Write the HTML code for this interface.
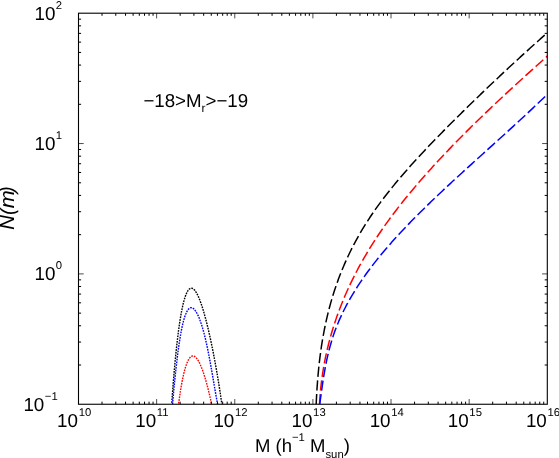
<!DOCTYPE html>
<html><head><meta charset="utf-8"><title>N(m)</title>
<style>html,body{margin:0;padding:0;background:#fff;}svg{display:block;will-change:transform;text-rendering:geometricPrecision;}text{font-family:"Liberation Sans",sans-serif;fill:#000;}</style></head><body>
<svg width="559" height="458" viewBox="0 0 559 458">
<rect width="559" height="458" fill="#fff"/>
<defs><clipPath id="c"><rect x="78.5" y="13.2" width="468.79999999999995" height="391.05"/></clipPath></defs>
<g clip-path="url(#c)" fill="none">
<path d="M316.18,404.25 L316.21,403.49 L316.25,402.73 L316.28,401.97 L316.32,401.21 L316.35,400.45 L316.39,399.69 L316.43,398.93 L316.47,398.17 L316.51,397.41 L316.55,396.65 L316.59,395.89 L316.63,395.13 L316.67,394.37 L316.71,393.61 L316.76,392.85 L316.80,392.09 L316.85,391.33 L316.90,390.57 L316.95,389.81 L316.99,389.05 L317.04,388.29 L317.09,387.53 L317.14,386.77 L317.20,386.01 L317.25,385.25 L317.30,384.49 L317.36,383.73 L317.42,382.97 L317.47,382.21 L317.53,381.45 L317.59,380.69 L317.65,379.93 L317.71,379.17 L317.77,378.41 L317.84,377.65 L317.90,376.89 L317.97,376.13 L318.03,375.37 L318.10,374.61 L318.17,373.85 L318.24,373.09 L318.31,372.33 L318.38,371.57 L318.45,370.81 L318.53,370.05 L318.60,369.29 L318.68,368.53 L318.76,367.77 L318.83,367.01 L318.91,366.25 L319.00,365.49 L319.08,364.73 L319.16,363.97 L319.25,363.21 L319.33,362.45 L319.42,361.69 L319.51,360.93 L319.60,360.17 L319.69,359.41 L319.78,358.65 L319.87,357.89 L319.97,357.13 L320.06,356.37 L320.16,355.61 L320.26,354.85 L320.36,354.09 L320.46,353.33 L320.57,352.57 L320.67,351.81 L320.78,351.05 L320.88,350.29 L320.99,349.53 L321.10,348.77 L321.21,348.01 L321.32,347.25 L321.44,346.49 L321.55,345.73 L321.67,344.97 L321.79,344.21 L321.91,343.45 L322.03,342.69 L322.15,341.93 L322.28,341.17 L322.40,340.41 L322.53,339.65 L322.66,338.89 L322.79,338.13 L322.92,337.37 L323.06,336.61 L323.19,335.85 L323.33,335.09 L323.47,334.33 L323.61,333.57 L323.75,332.81 L323.89,332.05 L324.04,331.29 L324.18,330.53 L324.33,329.77 L324.48,329.01 L324.63,328.25 L324.79,327.49 L324.94,326.73 L325.10,325.97 L325.26,325.21 L325.42,324.45 L325.58,323.69 L325.74,322.93 L325.91,322.17 L326.08,321.41 L326.25,320.65 L326.42,319.89 L326.59,319.13 L326.76,318.37 L326.94,317.61 L327.12,316.85 L327.30,316.09 L327.48,315.33 L327.66,314.57 L327.85,313.81 L328.03,313.05 L328.22,312.29 L328.42,311.53 L328.61,310.77 L328.80,310.01 L329.00,309.25 L329.20,308.49 L329.40,307.73 L329.60,306.97 L329.81,306.21 L330.01,305.45 L330.22,304.69 L330.43,303.93 L330.64,303.17 L330.86,302.41 L331.08,301.65 L331.29,300.89 L331.52,300.13 L331.74,299.37 L331.96,298.61 L332.19,297.85 L332.42,297.09 L332.65,296.33 L332.88,295.57 L333.12,294.81 L333.36,294.05 L333.59,293.29 L333.84,292.53 L334.08,291.77 L334.33,291.01 L334.57,290.25 L334.82,289.49 L335.08,288.73 L335.33,287.97 L335.59,287.21 L335.85,286.45 L336.11,285.69 L336.37,284.93 L336.64,284.17 L336.91,283.41 L337.18,282.65 L337.45,281.89 L337.72,281.13 L338.00,280.37 L338.28,279.61 L338.56,278.85 L338.85,278.09 L339.13,277.33 L339.42,276.57 L339.71,275.81 L340.01,275.05 L340.30,274.29 L340.60,273.53 L340.90,272.77 L341.21,272.01 L341.51,271.25 L341.82,270.49 L342.13,269.73 L342.44,268.97 L342.76,268.21 L343.08,267.45 L343.40,266.69 L343.72,265.93 L344.04,265.17 L344.37,264.41 L344.70,263.65 L345.04,262.89 L345.37,262.13 L345.71,261.37 L346.05,260.61 L346.39,259.85 L346.74,259.09 L347.09,258.33 L347.44,257.57 L347.79,256.81 L348.15,256.05 L348.51,255.29 L348.87,254.53 L349.23,253.77 L349.60,253.01 L349.97,252.25 L350.34,251.49 L350.71,250.73 L351.09,249.97 L351.47,249.21 L351.85,248.45 L352.24,247.69 L352.63,246.93 L353.02,246.17 L353.41,245.41 L353.81,244.65 L354.21,243.89 L354.61,243.13 L355.02,242.37 L355.42,241.61 L355.83,240.85 L356.25,240.09 L356.66,239.33 L357.08,238.57 L357.50,237.81 L357.93,237.05 L358.36,236.29 L358.79,235.53 L359.22,234.77 L359.66,234.01 L360.09,233.25 L360.54,232.49 L360.98,231.73 L361.43,230.97 L361.88,230.21 L362.33,229.45 L362.79,228.69 L363.25,227.93 L363.71,227.17 L364.18,226.41 L364.65,225.65 L365.12,224.89 L365.60,224.13 L366.07,223.37 L366.55,222.61 L367.04,221.85 L367.53,221.09 L368.02,220.33 L368.51,219.57 L369.00,218.81 L369.50,218.05 L370.01,217.29 L370.51,216.53 L371.02,215.77 L371.53,215.01 L372.05,214.24 L372.57,213.48 L373.09,212.72 L373.61,211.96 L374.14,211.20 L374.67,210.44 L375.21,209.68 L375.74,208.92 L376.28,208.16 L376.82,207.40 L377.37,206.64 L377.92,205.88 L378.47,205.12 L379.03,204.36 L379.58,203.60 L380.14,202.84 L380.71,202.08 L381.27,201.32 L381.84,200.56 L382.41,199.80 L382.99,199.04 L383.57,198.28 L384.15,197.52 L384.73,196.76 L385.31,196.00 L385.90,195.24 L386.49,194.48 L387.09,193.72 L387.68,192.96 L388.28,192.20 L388.88,191.44 L389.49,190.68 L390.10,189.92 L390.70,189.16 L391.32,188.40 L391.93,187.64 L392.55,186.88 L393.17,186.12 L393.79,185.36 L394.41,184.60 L395.04,183.84 L395.67,183.08 L396.30,182.32 L396.93,181.56 L397.57,180.80 L398.21,180.04 L398.85,179.28 L399.49,178.52 L400.14,177.76 L400.78,177.00 L401.43,176.24 L402.09,175.48 L402.74,174.72 L403.40,173.96 L404.06,173.20 L404.72,172.44 L405.38,171.68 L406.04,170.92 L406.71,170.16 L407.38,169.40 L408.05,168.64 L408.72,167.88 L409.40,167.12 L410.08,166.36 L410.75,165.60 L411.44,164.84 L412.12,164.08 L412.80,163.32 L413.49,162.56 L414.18,161.80 L414.87,161.04 L415.56,160.28 L416.26,159.52 L416.95,158.76 L417.65,158.00 L418.35,157.24 L419.05,156.48 L419.75,155.72 L420.46,154.96 L421.16,154.20 L421.87,153.44 L422.58,152.68 L423.29,151.92 L424.01,151.16 L424.72,150.40 L425.44,149.64 L426.15,148.88 L426.87,148.12 L427.59,147.36 L428.32,146.60 L429.04,145.84 L429.76,145.08 L430.49,144.32 L431.22,143.56 L431.95,142.80 L432.68,142.04 L433.41,141.28 L434.15,140.52 L434.88,139.76 L435.62,139.00 L436.35,138.24 L437.09,137.48 L437.83,136.72 L438.57,135.96 L439.32,135.20 L440.06,134.44 L440.80,133.68 L441.55,132.92 L442.30,132.16 L443.05,131.40 L443.80,130.64 L444.55,129.88 L445.30,129.12 L446.05,128.36 L446.80,127.60 L447.56,126.84 L448.31,126.08 L449.07,125.32 L449.83,124.56 L450.59,123.80 L451.35,123.04 L452.11,122.28 L452.87,121.52 L453.63,120.76 L454.39,120.00 L455.16,119.24 L455.92,118.48 L456.69,117.72 L457.45,116.96 L458.22,116.20 L458.99,115.44 L459.75,114.68 L460.52,113.92 L461.29,113.16 L462.06,112.40 L462.83,111.64 L463.61,110.88 L464.38,110.12 L465.15,109.36 L465.93,108.60 L466.70,107.84 L467.48,107.08 L468.26,106.32 L469.03,105.56 L469.81,104.80 L470.59,104.04 L471.37,103.28 L472.15,102.52 L472.93,101.76 L473.71,101.00 L474.50,100.24 L475.28,99.48 L476.06,98.72 L476.85,97.96 L477.64,97.20 L478.42,96.44 L479.21,95.68 L480.00,94.92 L480.79,94.16 L481.58,93.40 L482.37,92.64 L483.16,91.88 L483.95,91.12 L484.75,90.36 L485.54,89.60 L486.33,88.84 L487.13,88.08 L487.93,87.32 L488.72,86.56 L489.52,85.80 L490.32,85.04 L491.12,84.28 L491.92,83.52 L492.72,82.76 L493.53,82.00 L494.33,81.24 L495.13,80.48 L495.94,79.72 L496.74,78.96 L497.55,78.20 L498.36,77.44 L499.16,76.68 L499.97,75.92 L500.78,75.16 L501.59,74.40 L502.40,73.64 L503.22,72.88 L504.03,72.12 L504.84,71.36 L505.66,70.60 L506.47,69.84 L507.29,69.08 L508.11,68.32 L508.93,67.56 L509.75,66.80 L510.57,66.04 L511.39,65.28 L512.21,64.52 L513.03,63.76 L513.85,63.00 L514.68,62.24 L515.50,61.48 L516.33,60.72 L517.16,59.96 L517.98,59.20 L518.81,58.44 L519.64,57.68 L520.47,56.92 L521.31,56.16 L522.14,55.40 L522.97,54.64 L523.80,53.88 L524.64,53.12 L525.48,52.36 L526.31,51.60 L527.15,50.84 L527.99,50.08 L528.83,49.32 L529.67,48.56 L530.51,47.80 L531.35,47.04 L532.19,46.28 L533.04,45.52 L533.88,44.76 L534.73,44.00 L535.58,43.24 L536.42,42.48 L537.27,41.72 L538.12,40.96 L538.97,40.20 L539.82,39.44 L540.68,38.68 L541.53,37.92 L542.38,37.16 L543.24,36.40 L544.10,35.64 L544.95,34.88 L545.81,34.12 L546.67,33.36 L547.53,32.60 L548.39,31.84 L549.25,31.08" stroke="#000000" stroke-width="1.5" stroke-dasharray="10.2 3.55"/>
<path d="M319.51,404.25 L319.55,403.49 L319.59,402.73 L319.63,401.97 L319.68,401.21 L319.72,400.45 L319.77,399.69 L319.82,398.93 L319.88,398.17 L319.93,397.41 L319.99,396.65 L320.05,395.89 L320.11,395.13 L320.17,394.37 L320.23,393.61 L320.30,392.85 L320.37,392.09 L320.44,391.33 L320.51,390.57 L320.58,389.81 L320.66,389.05 L320.73,388.29 L320.81,387.53 L320.89,386.77 L320.98,386.01 L321.06,385.25 L321.15,384.49 L321.24,383.73 L321.33,382.97 L321.42,382.21 L321.51,381.45 L321.61,380.69 L321.71,379.93 L321.81,379.17 L321.91,378.41 L322.01,377.65 L322.12,376.89 L322.23,376.13 L322.34,375.37 L322.45,374.61 L322.56,373.85 L322.68,373.09 L322.80,372.33 L322.92,371.57 L323.04,370.81 L323.16,370.05 L323.29,369.29 L323.41,368.53 L323.54,367.77 L323.67,367.01 L323.81,366.25 L323.94,365.49 L324.08,364.73 L324.22,363.97 L324.36,363.21 L324.50,362.45 L324.65,361.69 L324.80,360.93 L324.94,360.17 L325.10,359.41 L325.25,358.65 L325.40,357.89 L325.56,357.13 L325.72,356.37 L325.88,355.61 L326.04,354.85 L326.21,354.09 L326.38,353.33 L326.54,352.57 L326.72,351.81 L326.89,351.05 L327.06,350.29 L327.24,349.53 L327.42,348.77 L327.60,348.01 L327.78,347.25 L327.97,346.49 L328.16,345.73 L328.34,344.97 L328.54,344.21 L328.73,343.45 L328.92,342.69 L329.12,341.93 L329.32,341.17 L329.52,340.41 L329.73,339.65 L329.93,338.89 L330.14,338.13 L330.35,337.37 L330.56,336.61 L330.77,335.85 L330.99,335.09 L331.21,334.33 L331.43,333.57 L331.65,332.81 L331.87,332.05 L332.10,331.29 L332.33,330.53 L332.56,329.77 L332.79,329.01 L333.02,328.25 L333.26,327.49 L333.50,326.73 L333.74,325.97 L333.98,325.21 L334.23,324.45 L334.47,323.69 L334.72,322.93 L334.97,322.17 L335.23,321.41 L335.48,320.65 L335.74,319.89 L336.00,319.13 L336.26,318.37 L336.53,317.61 L336.79,316.85 L337.06,316.09 L337.33,315.33 L337.60,314.57 L337.88,313.81 L338.15,313.05 L338.43,312.29 L338.71,311.53 L339.00,310.77 L339.28,310.01 L339.57,309.25 L339.86,308.49 L340.15,307.73 L340.44,306.97 L340.74,306.21 L341.04,305.45 L341.34,304.69 L341.64,303.93 L341.94,303.17 L342.25,302.41 L342.56,301.65 L342.87,300.89 L343.18,300.13 L343.50,299.37 L343.81,298.61 L344.13,297.85 L344.46,297.09 L344.78,296.33 L345.11,295.57 L345.43,294.81 L345.77,294.05 L346.10,293.29 L346.43,292.53 L346.77,291.77 L347.11,291.01 L347.45,290.25 L347.79,289.49 L348.14,288.73 L348.49,287.97 L348.84,287.21 L349.19,286.45 L349.55,285.69 L349.90,284.93 L350.26,284.17 L350.62,283.41 L350.99,282.65 L351.35,281.89 L351.72,281.13 L352.09,280.37 L352.46,279.61 L352.84,278.85 L353.22,278.09 L353.60,277.33 L353.98,276.57 L354.36,275.81 L354.75,275.05 L355.13,274.29 L355.53,273.53 L355.92,272.77 L356.31,272.01 L356.71,271.25 L357.11,270.49 L357.51,269.73 L357.92,268.97 L358.32,268.21 L358.73,267.45 L359.14,266.69 L359.55,265.93 L359.97,265.17 L360.39,264.41 L360.81,263.65 L361.23,262.89 L361.65,262.13 L362.08,261.37 L362.51,260.61 L362.94,259.85 L363.38,259.09 L363.81,258.33 L364.25,257.57 L364.69,256.81 L365.13,256.05 L365.58,255.29 L366.03,254.53 L366.48,253.77 L366.93,253.01 L367.38,252.25 L367.84,251.49 L368.30,250.73 L368.76,249.97 L369.22,249.21 L369.69,248.45 L370.16,247.69 L370.63,246.93 L371.10,246.17 L371.58,245.41 L372.06,244.65 L372.54,243.89 L373.02,243.13 L373.50,242.37 L373.99,241.61 L374.48,240.85 L374.97,240.09 L375.47,239.33 L375.96,238.57 L376.46,237.81 L376.96,237.05 L377.47,236.29 L377.97,235.53 L378.48,234.77 L378.99,234.01 L379.51,233.25 L380.02,232.49 L380.54,231.73 L381.06,230.97 L381.58,230.21 L382.11,229.45 L382.64,228.69 L383.17,227.93 L383.70,227.17 L384.23,226.41 L384.77,225.65 L385.31,224.89 L385.85,224.13 L386.39,223.37 L386.94,222.61 L387.49,221.85 L388.04,221.09 L388.59,220.33 L389.15,219.57 L389.70,218.81 L390.26,218.05 L390.83,217.29 L391.39,216.53 L391.96,215.77 L392.52,215.01 L393.09,214.24 L393.67,213.48 L394.24,212.72 L394.82,211.96 L395.40,211.20 L395.98,210.44 L396.56,209.68 L397.15,208.92 L397.74,208.16 L398.33,207.40 L398.92,206.64 L399.51,205.88 L400.11,205.12 L400.71,204.36 L401.31,203.60 L401.91,202.84 L402.52,202.08 L403.12,201.32 L403.73,200.56 L404.34,199.80 L404.96,199.04 L405.57,198.28 L406.19,197.52 L406.81,196.76 L407.43,196.00 L408.05,195.24 L408.67,194.48 L409.30,193.72 L409.93,192.96 L410.56,192.20 L411.19,191.44 L411.83,190.68 L412.47,189.92 L413.10,189.16 L413.74,188.40 L414.39,187.64 L415.03,186.88 L415.68,186.12 L416.33,185.36 L416.98,184.60 L417.63,183.84 L418.28,183.08 L418.94,182.32 L419.59,181.56 L420.25,180.80 L420.91,180.04 L421.58,179.28 L422.24,178.52 L422.91,177.76 L423.58,177.00 L424.25,176.24 L424.92,175.48 L425.59,174.72 L426.27,173.96 L426.95,173.20 L427.63,172.44 L428.31,171.68 L428.99,170.92 L429.67,170.16 L430.36,169.40 L431.05,168.64 L431.74,167.88 L432.43,167.12 L433.12,166.36 L433.81,165.60 L434.51,164.84 L435.21,164.08 L435.91,163.32 L436.61,162.56 L437.31,161.80 L438.02,161.04 L438.72,160.28 L439.43,159.52 L440.14,158.76 L440.85,158.00 L441.56,157.24 L442.28,156.48 L442.99,155.72 L443.71,154.96 L444.43,154.20 L445.15,153.44 L445.87,152.68 L446.59,151.92 L447.32,151.16 L448.05,150.40 L448.77,149.64 L449.50,148.88 L450.23,148.12 L450.97,147.36 L451.70,146.60 L452.44,145.84 L453.17,145.08 L453.91,144.32 L454.65,143.56 L455.39,142.80 L456.13,142.04 L456.88,141.28 L457.62,140.52 L458.37,139.76 L459.12,139.00 L459.87,138.24 L460.62,137.48 L461.37,136.72 L462.13,135.96 L462.88,135.20 L463.64,134.44 L464.40,133.68 L465.16,132.92 L465.92,132.16 L466.68,131.40 L467.44,130.64 L468.21,129.88 L468.97,129.12 L469.74,128.36 L470.51,127.60 L471.28,126.84 L472.05,126.08 L472.82,125.32 L473.59,124.56 L474.37,123.80 L475.15,123.04 L475.92,122.28 L476.70,121.52 L477.48,120.76 L478.26,120.00 L479.04,119.24 L479.83,118.48 L480.61,117.72 L481.40,116.96 L482.18,116.20 L482.97,115.44 L483.76,114.68 L484.55,113.92 L485.34,113.16 L486.13,112.40 L486.93,111.64 L487.72,110.88 L488.52,110.12 L489.32,109.36 L490.11,108.60 L490.91,107.84 L491.71,107.08 L492.51,106.32 L493.32,105.56 L494.12,104.80 L494.92,104.04 L495.73,103.28 L496.53,102.52 L497.34,101.76 L498.15,101.00 L498.96,100.24 L499.77,99.48 L500.58,98.72 L501.39,97.96 L502.21,97.20 L503.02,96.44 L503.84,95.68 L504.65,94.92 L505.47,94.16 L506.29,93.40 L507.10,92.64 L507.92,91.88 L508.74,91.12 L509.57,90.36 L510.39,89.60 L511.21,88.84 L512.04,88.08 L512.86,87.32 L513.69,86.56 L514.51,85.80 L515.34,85.04 L516.17,84.28 L517.00,83.52 L517.83,82.76 L518.66,82.00 L519.49,81.24 L520.32,80.48 L521.16,79.72 L521.99,78.96 L522.82,78.20 L523.66,77.44 L524.50,76.68 L525.33,75.92 L526.17,75.16 L527.01,74.40 L527.85,73.64 L528.69,72.88 L529.53,72.12 L530.37,71.36 L531.21,70.60 L532.05,69.84 L532.90,69.08 L533.74,68.32 L534.58,67.56 L535.43,66.80 L536.28,66.04 L537.12,65.28 L537.97,64.52 L538.82,63.76 L539.66,63.00 L540.51,62.24 L541.36,61.48 L542.21,60.72 L543.06,59.96 L543.91,59.20 L544.77,58.44 L545.62,57.68 L546.47,56.92 L547.32,56.16 L548.18,55.40 L549.03,54.64" stroke="#ff0000" stroke-width="1.5" stroke-dasharray="10.2 3.55"/>
<path d="M319.75,404.25 L319.86,403.49 L319.96,402.73 L320.06,401.97 L320.16,401.21 L320.26,400.45 L320.37,399.69 L320.47,398.93 L320.57,398.17 L320.67,397.41 L320.78,396.65 L320.88,395.89 L320.98,395.13 L321.09,394.37 L321.19,393.61 L321.29,392.85 L321.40,392.09 L321.50,391.33 L321.61,390.57 L321.72,389.81 L321.82,389.05 L321.93,388.29 L322.04,387.53 L322.15,386.77 L322.26,386.01 L322.37,385.25 L322.48,384.49 L322.59,383.73 L322.70,382.97 L322.82,382.21 L322.93,381.45 L323.05,380.69 L323.17,379.93 L323.29,379.17 L323.41,378.41 L323.53,377.65 L323.65,376.89 L323.77,376.13 L323.90,375.37 L324.02,374.61 L324.15,373.85 L324.28,373.09 L324.41,372.33 L324.54,371.57 L324.68,370.81 L324.81,370.05 L324.95,369.29 L325.09,368.53 L325.23,367.77 L325.37,367.01 L325.51,366.25 L325.66,365.49 L325.81,364.73 L325.96,363.97 L326.11,363.21 L326.26,362.45 L326.42,361.69 L326.58,360.93 L326.74,360.17 L326.90,359.41 L327.06,358.65 L327.23,357.89 L327.40,357.13 L327.57,356.37 L327.75,355.61 L327.92,354.85 L328.10,354.09 L328.28,353.33 L328.47,352.57 L328.65,351.81 L328.84,351.05 L329.03,350.29 L329.23,349.53 L329.43,348.77 L329.63,348.01 L329.83,347.25 L330.04,346.49 L330.25,345.73 L330.46,344.97 L330.67,344.21 L330.89,343.45 L331.11,342.69 L331.34,341.93 L331.56,341.17 L331.79,340.41 L332.03,339.65 L332.26,338.89 L332.51,338.13 L332.75,337.37 L333.00,336.61 L333.25,335.85 L333.50,335.09 L333.76,334.33 L334.02,333.57 L334.29,332.81 L334.56,332.05 L334.83,331.29 L335.10,330.53 L335.38,329.77 L335.67,329.01 L335.96,328.25 L336.25,327.49 L336.54,326.73 L336.84,325.97 L337.15,325.21 L337.45,324.45 L337.77,323.69 L338.08,322.93 L338.40,322.17 L338.72,321.41 L339.05,320.65 L339.38,319.89 L339.72,319.13 L340.05,318.37 L340.40,317.61 L340.74,316.85 L341.09,316.09 L341.44,315.33 L341.80,314.57 L342.16,313.81 L342.53,313.05 L342.90,312.29 L343.27,311.53 L343.64,310.77 L344.02,310.01 L344.41,309.25 L344.80,308.49 L345.19,307.73 L345.58,306.97 L345.98,306.21 L346.38,305.45 L346.79,304.69 L347.20,303.93 L347.61,303.17 L348.02,302.41 L348.45,301.65 L348.87,300.89 L349.30,300.13 L349.73,299.37 L350.16,298.61 L350.60,297.85 L351.04,297.09 L351.49,296.33 L351.94,295.57 L352.39,294.81 L352.84,294.05 L353.30,293.29 L353.77,292.53 L354.23,291.77 L354.70,291.01 L355.18,290.25 L355.65,289.49 L356.13,288.73 L356.62,287.97 L357.10,287.21 L357.59,286.45 L358.09,285.69 L358.59,284.93 L359.09,284.17 L359.59,283.41 L360.10,282.65 L360.61,281.89 L361.12,281.13 L361.64,280.37 L362.16,279.61 L362.69,278.85 L363.21,278.09 L363.75,277.33 L364.28,276.57 L364.82,275.81 L365.36,275.05 L365.90,274.29 L366.45,273.53 L367.00,272.77 L367.56,272.01 L368.11,271.25 L368.67,270.49 L369.24,269.73 L369.80,268.97 L370.38,268.21 L370.95,267.45 L371.53,266.69 L372.11,265.93 L372.69,265.17 L373.27,264.41 L373.86,263.65 L374.46,262.89 L375.05,262.13 L375.65,261.37 L376.25,260.61 L376.86,259.85 L377.47,259.09 L378.08,258.33 L378.69,257.57 L379.31,256.81 L379.93,256.05 L380.55,255.29 L381.18,254.53 L381.81,253.77 L382.44,253.01 L383.08,252.25 L383.72,251.49 L384.36,250.73 L385.00,249.97 L385.65,249.21 L386.30,248.45 L386.96,247.69 L387.61,246.93 L388.27,246.17 L388.93,245.41 L389.60,244.65 L390.27,243.89 L390.94,243.13 L391.61,242.37 L392.29,241.61 L392.97,240.85 L393.65,240.09 L394.33,239.33 L395.02,238.57 L395.71,237.81 L396.40,237.05 L397.09,236.29 L397.79,235.53 L398.49,234.77 L399.19,234.01 L399.90,233.25 L400.61,232.49 L401.32,231.73 L402.03,230.97 L402.74,230.21 L403.46,229.45 L404.18,228.69 L404.90,227.93 L405.63,227.17 L406.35,226.41 L407.08,225.65 L407.81,224.89 L408.54,224.13 L409.28,223.37 L410.02,222.61 L410.76,221.85 L411.50,221.09 L412.24,220.33 L412.99,219.57 L413.74,218.81 L414.49,218.05 L415.24,217.29 L415.99,216.53 L416.75,215.77 L417.51,215.01 L418.27,214.24 L419.03,213.48 L419.79,212.72 L420.56,211.96 L421.33,211.20 L422.10,210.44 L422.87,209.68 L423.64,208.92 L424.41,208.16 L425.19,207.40 L425.97,206.64 L426.75,205.88 L427.53,205.12 L428.31,204.36 L429.10,203.60 L429.88,202.84 L430.67,202.08 L431.46,201.32 L432.25,200.56 L433.04,199.80 L433.84,199.04 L434.63,198.28 L435.43,197.52 L436.23,196.76 L437.03,196.00 L437.83,195.24 L438.63,194.48 L439.44,193.72 L440.24,192.96 L441.05,192.20 L441.85,191.44 L442.66,190.68 L443.47,189.92 L444.28,189.16 L445.10,188.40 L445.91,187.64 L446.72,186.88 L447.54,186.12 L448.36,185.36 L449.18,184.60 L449.99,183.84 L450.81,183.08 L451.63,182.32 L452.46,181.56 L453.28,180.80 L454.10,180.04 L454.93,179.28 L455.75,178.52 L456.58,177.76 L457.41,177.00 L458.23,176.24 L459.06,175.48 L459.89,174.72 L460.72,173.96 L461.55,173.20 L462.38,172.44 L463.22,171.68 L464.05,170.92 L464.88,170.16 L465.72,169.40 L466.55,168.64 L467.39,167.88 L468.22,167.12 L469.06,166.36 L469.90,165.60 L470.73,164.84 L471.57,164.08 L472.41,163.32 L473.25,162.56 L474.09,161.80 L474.92,161.04 L475.76,160.28 L476.60,159.52 L477.44,158.76 L478.28,158.00 L479.12,157.24 L479.97,156.48 L480.81,155.72 L481.65,154.96 L482.49,154.20 L483.33,153.44 L484.17,152.68 L485.01,151.92 L485.85,151.16 L486.70,150.40 L487.54,149.64 L488.38,148.88 L489.22,148.12 L490.06,147.36 L490.90,146.60 L491.75,145.84 L492.59,145.08 L493.43,144.32 L494.27,143.56 L495.11,142.80 L495.95,142.04 L496.79,141.28 L497.63,140.52 L498.47,139.76 L499.31,139.00 L500.15,138.24 L500.99,137.48 L501.83,136.72 L502.66,135.96 L503.50,135.20 L504.34,134.44 L505.18,133.68 L506.01,132.92 L506.85,132.16 L507.68,131.40 L508.52,130.64 L509.35,129.88 L510.18,129.12 L511.02,128.36 L511.85,127.60 L512.68,126.84 L513.51,126.08 L514.34,125.32 L515.17,124.56 L516.00,123.80 L516.83,123.04 L517.65,122.28 L518.48,121.52 L519.31,120.76 L520.13,120.00 L520.95,119.24 L521.78,118.48 L522.60,117.72 L523.42,116.96 L524.24,116.20 L525.06,115.44 L525.88,114.68 L526.69,113.92 L527.51,113.16 L528.32,112.40 L529.14,111.64 L529.95,110.88 L530.76,110.12 L531.57,109.36 L532.38,108.60 L533.19,107.84 L533.99,107.08 L534.80,106.32 L535.60,105.56 L536.40,104.80 L537.20,104.04 L538.00,103.28 L538.80,102.52 L539.60,101.76 L540.39,101.00 L541.19,100.24 L541.98,99.48 L542.77,98.72 L543.56,97.96 L544.35,97.20 L545.13,96.44 L545.92,95.68 L546.70,94.92 L547.48,94.16 L548.26,93.40 L549.04,92.64" stroke="#0000ff" stroke-width="1.5" stroke-dasharray="10.17 3.49"/>
<path d="M171.75,402.91 L171.88,401.07 L172.01,399.25 L172.14,397.46 L172.27,395.67 L172.40,393.91 L172.54,392.17 L172.67,390.45 L172.80,388.74 L172.93,387.05 L173.06,385.39 L173.19,383.74 L173.32,382.10 L173.45,380.49 L173.58,378.89 L173.71,377.32 L173.85,375.76 L173.98,374.21 L174.11,372.69 L174.24,371.18 L174.37,369.69 L174.50,368.21 L174.63,366.76 L174.76,365.32 L174.89,363.90 L175.03,362.49 L175.16,361.10 L175.29,359.73 L175.42,358.37 L175.55,357.03 L175.68,355.71 L175.81,354.40 L175.94,353.11 L176.07,351.84 L176.21,350.58 L176.34,349.33 L176.47,348.10 L176.60,346.89 L176.73,345.69 L176.86,344.51 L176.99,343.35 L177.12,342.20 L177.25,341.06 L177.38,339.94 L177.52,338.83 L177.65,337.74 L177.78,336.66 L177.91,335.60 L178.04,334.55 L178.17,333.52 L178.30,332.50 L178.43,331.49 L178.56,330.50 L178.70,329.53 L178.83,328.56 L178.96,327.61 L179.09,326.68 L179.22,325.76 L179.35,324.85 L179.48,323.95 L179.61,323.07 L179.74,322.20 L179.88,321.35 L180.01,320.51 L180.14,319.68 L180.27,318.86 L180.40,318.06 L180.53,317.27 L180.66,316.49 L180.79,315.72 L180.92,314.97 L181.06,314.23 L181.19,313.50 L181.32,312.79 L181.45,312.08 L181.58,311.39 L181.71,310.71 L181.84,310.04 L181.97,309.39 L182.10,308.74 L182.23,308.11 L182.37,307.49 L182.50,306.88 L182.63,306.28 L182.76,305.69 L182.89,305.12 L183.02,304.55 L183.15,304.00 L183.28,303.46 L183.41,302.93 L183.55,302.40 L183.68,301.89 L183.81,301.39 L183.94,300.91 L184.07,300.43 L184.20,299.96 L184.33,299.50 L184.46,299.05 L184.59,298.62 L184.73,298.19 L184.86,297.77 L184.99,297.37 L185.12,296.97 L185.25,296.58 L185.38,296.20 L185.51,295.84 L185.64,295.48 L185.77,295.13 L185.91,294.79 L186.04,294.46 L186.17,294.14 L186.30,293.83 L186.43,293.53 L186.56,293.23 L186.69,292.95 L186.82,292.68 L186.95,292.41 L187.08,292.15 L187.22,291.90 L187.35,291.66 L187.48,291.43 L187.61,291.21 L187.74,291.00 L187.87,290.79 L188.00,290.59 L188.13,290.41 L188.26,290.23 L188.40,290.05 L188.53,289.89 L188.66,289.73 L188.79,289.58 L188.92,289.44 L189.05,289.31 L189.18,289.19 L189.31,289.07 L189.44,288.96 L189.58,288.86 L189.71,288.76 L189.84,288.68 L189.97,288.60 L190.10,288.53 L190.23,288.46 L190.36,288.41 L190.49,288.36 L190.62,288.31 L190.75,288.28 L190.89,288.25 L191.02,288.23 L191.15,288.21 L191.28,288.20 L191.41,288.20 L191.54,288.21 L191.67,288.22 L191.80,288.24 L191.93,288.27 L192.07,288.30 L192.20,288.34 L192.33,288.38 L192.46,288.43 L192.59,288.49 L192.72,288.55 L192.85,288.62 L192.98,288.70 L193.11,288.78 L193.25,288.87 L193.38,288.97 L193.51,289.07 L193.64,289.17 L193.77,289.29 L193.90,289.40 L194.03,289.53 L194.16,289.66 L194.29,289.79 L194.43,289.93 L194.56,290.08 L194.69,290.23 L194.82,290.39 L194.95,290.55 L195.08,290.72 L195.21,290.90 L195.34,291.07 L195.47,291.26 L195.60,291.45 L195.74,291.64 L195.87,291.84 L196.00,292.05 L196.13,292.26 L196.26,292.47 L196.39,292.69 L196.52,292.92 L196.65,293.15 L196.78,293.39 L196.92,293.62 L197.05,293.87 L197.18,294.12 L197.31,294.37 L197.44,294.63 L197.57,294.90 L197.70,295.16 L197.83,295.44 L197.96,295.71 L198.10,295.99 L198.23,296.28 L198.36,296.57 L198.49,296.87 L198.62,297.17 L198.75,297.47 L198.88,297.78 L199.01,298.09 L199.14,298.41 L199.27,298.73 L199.41,299.05 L199.54,299.38 L199.67,299.71 L199.80,300.05 L199.93,300.39 L200.06,300.74 L200.19,301.09 L200.32,301.44 L200.45,301.80 L200.59,302.16 L200.72,302.52 L200.85,302.89 L200.98,303.26 L201.11,303.64 L201.24,304.02 L201.37,304.40 L201.50,304.79 L201.63,305.18 L201.77,305.58 L201.90,305.98 L202.03,306.38 L202.16,306.79 L202.29,307.19 L202.42,307.61 L202.55,308.02 L202.68,308.44 L202.81,308.87 L202.95,309.29 L203.08,309.72 L203.21,310.16 L203.34,310.60 L203.47,311.04 L203.60,311.48 L203.73,311.93 L203.86,312.38 L203.99,312.83 L204.12,313.29 L204.26,313.75 L204.39,314.21 L204.52,314.68 L204.65,315.15 L204.78,315.63 L204.91,316.10 L205.04,316.58 L205.17,317.07 L205.30,317.55 L205.44,318.04 L205.57,318.53 L205.70,319.03 L205.83,319.53 L205.96,320.03 L206.09,320.53 L206.22,321.04 L206.35,321.55 L206.48,322.07 L206.62,322.59 L206.75,323.11 L206.88,323.63 L207.01,324.16 L207.14,324.68 L207.27,325.22 L207.40,325.75 L207.53,326.29 L207.66,326.83 L207.79,327.38 L207.93,327.92 L208.06,328.47 L208.19,329.03 L208.32,329.58 L208.45,330.14 L208.58,330.70 L208.71,331.27 L208.84,331.84 L208.97,332.41 L209.11,332.98 L209.24,333.56 L209.37,334.14 L209.50,334.72 L209.63,335.31 L209.76,335.89 L209.89,336.49 L210.02,337.08 L210.15,337.68 L210.29,338.28 L210.42,338.88 L210.55,339.49 L210.68,340.09 L210.81,340.71 L210.94,341.32 L211.07,341.94 L211.20,342.56 L211.33,343.18 L211.47,343.81 L211.60,344.44 L211.73,345.07 L211.86,345.71 L211.99,346.35 L212.12,346.99 L212.25,347.63 L212.38,348.28 L212.51,348.93 L212.64,349.58 L212.78,350.24 L212.91,350.90 L213.04,351.56 L213.17,352.23 L213.30,352.90 L213.43,353.57 L213.56,354.24 L213.69,354.92 L213.82,355.60 L213.96,356.29 L214.09,356.97 L214.22,357.66 L214.35,358.36 L214.48,359.05 L214.61,359.75 L214.74,360.46 L214.87,361.16 L215.00,361.87 L215.14,362.58 L215.27,363.30 L215.40,364.02 L215.53,364.74 L215.66,365.47 L215.79,366.20 L215.92,366.93 L216.05,367.67 L216.18,368.41 L216.32,369.15 L216.45,369.90 L216.58,370.65 L216.71,371.40 L216.84,372.16 L216.97,372.92 L217.10,373.68 L217.23,374.45 L217.36,375.22 L217.49,375.99 L217.63,376.77 L217.76,377.55 L217.89,378.34 L218.02,379.13 L218.15,379.92 L218.28,380.71 L218.41,381.52 L218.54,382.32 L218.67,383.13 L218.81,383.94 L218.94,384.75 L219.07,385.57 L219.20,386.40 L219.33,387.22 L219.46,388.06 L219.59,388.89 L219.72,389.73 L219.85,390.57 L219.99,391.42 L220.12,392.27 L220.25,393.13 L220.38,393.99 L220.51,394.85 L220.64,395.72 L220.77,396.60 L220.90,397.47 L221.03,398.35 L221.16,399.24 L221.30,400.13 L221.43,401.03 L221.56,401.92 L221.69,402.83 L221.82,403.74" stroke="#000000" stroke-width="1.4" stroke-dasharray="1.7 1.05"/>
<path d="M178.66,403.61 L178.74,402.94 L178.83,402.27 L178.92,401.62 L179.01,400.96 L179.10,400.32 L179.18,399.68 L179.27,399.04 L179.36,398.41 L179.45,397.79 L179.54,397.17 L179.62,396.56 L179.71,395.95 L179.80,395.35 L179.89,394.76 L179.98,394.17 L180.06,393.58 L180.15,393.00 L180.24,392.43 L180.33,391.86 L180.42,391.30 L180.50,390.74 L180.59,390.19 L180.68,389.64 L180.77,389.10 L180.85,388.57 L180.94,388.04 L181.03,387.51 L181.12,386.99 L181.21,386.47 L181.29,385.96 L181.38,385.46 L181.47,384.96 L181.56,384.47 L181.65,383.98 L181.73,383.49 L181.82,383.01 L181.91,382.54 L182.00,382.07 L182.09,381.60 L182.17,381.14 L182.26,380.69 L182.35,380.24 L182.44,379.79 L182.53,379.35 L182.61,378.92 L182.70,378.49 L182.79,378.06 L182.88,377.64 L182.97,377.23 L183.05,376.81 L183.14,376.41 L183.23,376.01 L183.32,375.61 L183.41,375.22 L183.49,374.83 L183.58,374.44 L183.67,374.07 L183.76,373.69 L183.85,373.32 L183.93,372.96 L184.02,372.59 L184.11,372.24 L184.20,371.89 L184.29,371.54 L184.37,371.20 L184.46,370.86 L184.55,370.52 L184.64,370.19 L184.73,369.87 L184.81,369.55 L184.90,369.23 L184.99,368.92 L185.08,368.61 L185.17,368.30 L185.25,368.00 L185.34,367.71 L185.43,367.41 L185.52,367.13 L185.61,366.84 L185.69,366.56 L185.78,366.29 L185.87,366.02 L185.96,365.75 L186.05,365.49 L186.13,365.23 L186.22,364.97 L186.31,364.72 L186.40,364.47 L186.48,364.23 L186.57,363.99 L186.66,363.76 L186.75,363.52 L186.84,363.30 L186.92,363.07 L187.01,362.85 L187.10,362.64 L187.19,362.42 L187.28,362.22 L187.36,362.01 L187.45,361.81 L187.54,361.61 L187.63,361.42 L187.72,361.23 L187.80,361.04 L187.89,360.86 L187.98,360.68 L188.07,360.51 L188.16,360.33 L188.24,360.16 L188.33,360.00 L188.42,359.84 L188.51,359.68 L188.60,359.53 L188.68,359.38 L188.77,359.23 L188.86,359.09 L188.95,358.95 L189.04,358.81 L189.12,358.68 L189.21,358.55 L189.30,358.42 L189.39,358.30 L189.48,358.18 L189.56,358.06 L189.65,357.95 L189.74,357.84 L189.83,357.73 L189.92,357.63 L190.00,357.53 L190.09,357.43 L190.18,357.34 L190.27,357.25 L190.36,357.16 L190.44,357.07 L190.53,356.99 L190.62,356.92 L190.71,356.84 L190.80,356.77 L190.88,356.70 L190.97,356.64 L191.06,356.57 L191.15,356.52 L191.24,356.46 L191.32,356.41 L191.41,356.36 L191.50,356.31 L191.59,356.27 L191.68,356.22 L191.76,356.19 L191.85,356.15 L191.94,356.12 L192.03,356.09 L192.12,356.06 L192.20,356.04 L192.29,356.02 L192.38,356.00 L192.47,355.99 L192.55,355.97 L192.64,355.97 L192.73,355.96 L192.82,355.96 L192.91,355.95 L192.99,355.96 L193.08,355.96 L193.17,355.97 L193.26,355.98 L193.35,355.99 L193.43,356.01 L193.52,356.03 L193.61,356.05 L193.70,356.07 L193.79,356.10 L193.87,356.13 L193.96,356.16 L194.05,356.19 L194.14,356.23 L194.23,356.27 L194.31,356.31 L194.40,356.35 L194.49,356.40 L194.58,356.45 L194.67,356.50 L194.75,356.56 L194.84,356.62 L194.93,356.68 L195.02,356.74 L195.11,356.80 L195.19,356.87 L195.28,356.94 L195.37,357.01 L195.46,357.09 L195.55,357.16 L195.63,357.24 L195.72,357.32 L195.81,357.41 L195.90,357.49 L195.99,357.58 L196.07,357.67 L196.16,357.77 L196.25,357.86 L196.34,357.96 L196.43,358.06 L196.51,358.17 L196.60,358.27 L196.69,358.38 L196.78,358.49 L196.87,358.60 L196.95,358.71 L197.04,358.83 L197.13,358.95 L197.22,359.07 L197.31,359.19 L197.39,359.32 L197.48,359.45 L197.57,359.58 L197.66,359.71 L197.75,359.84 L197.83,359.98 L197.92,360.12 L198.01,360.26 L198.10,360.40 L198.18,360.55 L198.27,360.69 L198.36,360.84 L198.45,360.99 L198.54,361.15 L198.62,361.30 L198.71,361.46 L198.80,361.62 L198.89,361.78 L198.98,361.95 L199.06,362.11 L199.15,362.28 L199.24,362.45 L199.33,362.62 L199.42,362.80 L199.50,362.97 L199.59,363.15 L199.68,363.33 L199.77,363.51 L199.86,363.69 L199.94,363.88 L200.03,364.07 L200.12,364.26 L200.21,364.45 L200.30,364.64 L200.38,364.84 L200.47,365.04 L200.56,365.24 L200.65,365.44 L200.74,365.64 L200.82,365.85 L200.91,366.05 L201.00,366.26 L201.09,366.47 L201.18,366.69 L201.26,366.90 L201.35,367.12 L201.44,367.33 L201.53,367.56 L201.62,367.78 L201.70,368.00 L201.79,368.23 L201.88,368.45 L201.97,368.68 L202.06,368.91 L202.14,369.15 L202.23,369.38 L202.32,369.62 L202.41,369.86 L202.50,370.10 L202.58,370.34 L202.67,370.58 L202.76,370.83 L202.85,371.08 L202.94,371.33 L203.02,371.58 L203.11,371.83 L203.20,372.08 L203.29,372.34 L203.38,372.60 L203.46,372.86 L203.55,373.12 L203.64,373.38 L203.73,373.65 L203.82,373.91 L203.90,374.18 L203.99,374.45 L204.08,374.72 L204.17,375.00 L204.25,375.27 L204.34,375.55 L204.43,375.83 L204.52,376.11 L204.61,376.39 L204.69,376.67 L204.78,376.96 L204.87,377.25 L204.96,377.54 L205.05,377.83 L205.13,378.12 L205.22,378.41 L205.31,378.71 L205.40,379.00 L205.49,379.30 L205.57,379.60 L205.66,379.91 L205.75,380.21 L205.84,380.52 L205.93,380.82 L206.01,381.13 L206.10,381.44 L206.19,381.75 L206.28,382.07 L206.37,382.38 L206.45,382.70 L206.54,383.02 L206.63,383.34 L206.72,383.66 L206.81,383.98 L206.89,384.31 L206.98,384.64 L207.07,384.97 L207.16,385.30 L207.25,385.63 L207.33,385.96 L207.42,386.30 L207.51,386.63 L207.60,386.97 L207.69,387.31 L207.77,387.65 L207.86,388.00 L207.95,388.34 L208.04,388.69 L208.13,389.03 L208.21,389.38 L208.30,389.74 L208.39,390.09 L208.48,390.44 L208.57,390.80 L208.65,391.16 L208.74,391.52 L208.83,391.88 L208.92,392.24 L209.01,392.60 L209.09,392.97 L209.18,393.34 L209.27,393.71 L209.36,394.08 L209.45,394.45 L209.53,394.83 L209.62,395.20 L209.71,395.58 L209.80,395.96 L209.88,396.34 L209.97,396.72 L210.06,397.10 L210.15,397.49 L210.24,397.88 L210.32,398.27 L210.41,398.66 L210.50,399.05 L210.59,399.44 L210.68,399.84 L210.76,400.24 L210.85,400.63 L210.94,401.03 L211.03,401.44 L211.12,401.84 L211.20,402.25 L211.29,402.65 L211.38,403.06 L211.47,403.47 L211.56,403.88" stroke="#ff0000" stroke-width="1.4" stroke-dasharray="1.7 1.05"/>
<path d="M172.54,404.23 L172.66,402.88 L172.78,401.54 L172.90,400.20 L173.02,398.88 L173.13,397.56 L173.25,396.25 L173.37,394.95 L173.49,393.66 L173.61,392.38 L173.72,391.11 L173.84,389.85 L173.96,388.60 L174.08,387.36 L174.20,386.13 L174.32,384.91 L174.43,383.70 L174.55,382.49 L174.67,381.30 L174.79,380.12 L174.91,378.95 L175.02,377.79 L175.14,376.63 L175.26,375.49 L175.38,374.36 L175.50,373.24 L175.61,372.13 L175.73,371.03 L175.85,369.94 L175.97,368.86 L176.09,367.79 L176.20,366.73 L176.32,365.68 L176.44,364.64 L176.56,363.61 L176.68,362.60 L176.79,361.59 L176.91,360.59 L177.03,359.61 L177.15,358.63 L177.27,357.67 L177.38,356.71 L177.50,355.77 L177.62,354.83 L177.74,353.91 L177.86,353.00 L177.97,352.09 L178.09,351.20 L178.21,350.32 L178.33,349.45 L178.45,348.59 L178.56,347.74 L178.68,346.90 L178.80,346.07 L178.92,345.25 L179.04,344.44 L179.15,343.64 L179.27,342.85 L179.39,342.07 L179.51,341.30 L179.63,340.54 L179.75,339.80 L179.86,339.06 L179.98,338.33 L180.10,337.61 L180.22,336.90 L180.34,336.20 L180.45,335.52 L180.57,334.84 L180.69,334.17 L180.81,333.51 L180.93,332.86 L181.04,332.22 L181.16,331.59 L181.28,330.97 L181.40,330.36 L181.52,329.76 L181.63,329.17 L181.75,328.58 L181.87,328.01 L181.99,327.45 L182.11,326.89 L182.22,326.35 L182.34,325.81 L182.46,325.28 L182.58,324.77 L182.70,324.26 L182.81,323.76 L182.93,323.27 L183.05,322.78 L183.17,322.31 L183.29,321.85 L183.40,321.39 L183.52,320.94 L183.64,320.50 L183.76,320.07 L183.88,319.65 L183.99,319.24 L184.11,318.83 L184.23,318.44 L184.35,318.05 L184.47,317.67 L184.58,317.30 L184.70,316.93 L184.82,316.58 L184.94,316.23 L185.06,315.89 L185.18,315.56 L185.29,315.23 L185.41,314.91 L185.53,314.61 L185.65,314.30 L185.77,314.01 L185.88,313.72 L186.00,313.44 L186.12,313.17 L186.24,312.91 L186.36,312.65 L186.47,312.40 L186.59,312.16 L186.71,311.92 L186.83,311.70 L186.95,311.47 L187.06,311.26 L187.18,311.05 L187.30,310.85 L187.42,310.66 L187.54,310.47 L187.65,310.29 L187.77,310.11 L187.89,309.95 L188.01,309.79 L188.13,309.63 L188.24,309.48 L188.36,309.34 L188.48,309.21 L188.60,309.08 L188.72,308.95 L188.83,308.84 L188.95,308.73 L189.07,308.62 L189.19,308.52 L189.31,308.43 L189.42,308.34 L189.54,308.26 L189.66,308.19 L189.78,308.12 L189.90,308.05 L190.02,308.00 L190.13,307.94 L190.25,307.90 L190.37,307.85 L190.49,307.82 L190.61,307.79 L190.72,307.76 L190.84,307.74 L190.96,307.73 L191.08,307.72 L191.20,307.71 L191.31,307.72 L191.43,307.72 L191.55,307.73 L191.67,307.75 L191.79,307.77 L191.90,307.80 L192.02,307.83 L192.14,307.87 L192.26,307.91 L192.38,307.95 L192.49,308.01 L192.61,308.06 L192.73,308.12 L192.85,308.19 L192.97,308.26 L193.08,308.33 L193.20,308.41 L193.32,308.50 L193.44,308.58 L193.56,308.68 L193.67,308.78 L193.79,308.88 L193.91,308.98 L194.03,309.10 L194.15,309.21 L194.26,309.33 L194.38,309.46 L194.50,309.58 L194.62,309.72 L194.74,309.85 L194.85,310.00 L194.97,310.14 L195.09,310.29 L195.21,310.45 L195.33,310.60 L195.45,310.77 L195.56,310.93 L195.68,311.11 L195.80,311.28 L195.92,311.46 L196.04,311.64 L196.15,311.83 L196.27,312.02 L196.39,312.22 L196.51,312.42 L196.63,312.62 L196.74,312.83 L196.86,313.04 L196.98,313.26 L197.10,313.48 L197.22,313.70 L197.33,313.93 L197.45,314.16 L197.57,314.40 L197.69,314.64 L197.81,314.88 L197.92,315.13 L198.04,315.38 L198.16,315.64 L198.28,315.90 L198.40,316.16 L198.51,316.43 L198.63,316.70 L198.75,316.97 L198.87,317.25 L198.99,317.54 L199.10,317.82 L199.22,318.11 L199.34,318.41 L199.46,318.71 L199.58,319.01 L199.69,319.32 L199.81,319.63 L199.93,319.94 L200.05,320.26 L200.17,320.58 L200.28,320.91 L200.40,321.24 L200.52,321.57 L200.64,321.91 L200.76,322.25 L200.88,322.60 L200.99,322.95 L201.11,323.30 L201.23,323.66 L201.35,324.02 L201.47,324.39 L201.58,324.76 L201.70,325.13 L201.82,325.51 L201.94,325.89 L202.06,326.28 L202.17,326.66 L202.29,327.06 L202.41,327.45 L202.53,327.86 L202.65,328.26 L202.76,328.67 L202.88,329.08 L203.00,329.50 L203.12,329.92 L203.24,330.35 L203.35,330.78 L203.47,331.21 L203.59,331.65 L203.71,332.09 L203.83,332.53 L203.94,332.98 L204.06,333.43 L204.18,333.89 L204.30,334.35 L204.42,334.82 L204.53,335.28 L204.65,335.76 L204.77,336.23 L204.89,336.71 L205.01,337.20 L205.12,337.69 L205.24,338.18 L205.36,338.68 L205.48,339.18 L205.60,339.68 L205.72,340.19 L205.83,340.70 L205.95,341.22 L206.07,341.74 L206.19,342.26 L206.31,342.79 L206.42,343.32 L206.54,343.86 L206.66,344.40 L206.78,344.94 L206.90,345.49 L207.01,346.04 L207.13,346.59 L207.25,347.15 L207.37,347.72 L207.49,348.28 L207.60,348.85 L207.72,349.42 L207.84,350.00 L207.96,350.58 L208.08,351.17 L208.19,351.75 L208.31,352.34 L208.43,352.94 L208.55,353.54 L208.67,354.14 L208.78,354.74 L208.90,355.35 L209.02,355.96 L209.14,356.58 L209.26,357.20 L209.37,357.82 L209.49,358.44 L209.61,359.07 L209.73,359.70 L209.85,360.33 L209.96,360.97 L210.08,361.61 L210.20,362.25 L210.32,362.90 L210.44,363.55 L210.55,364.20 L210.67,364.85 L210.79,365.51 L210.91,366.16 L211.03,366.82 L211.15,367.49 L211.26,368.15 L211.38,368.82 L211.50,369.49 L211.62,370.16 L211.74,370.83 L211.85,371.51 L211.97,372.18 L212.09,372.86 L212.21,373.54 L212.33,374.22 L212.44,374.91 L212.56,375.59 L212.68,376.28 L212.80,376.96 L212.92,377.65 L213.03,378.34 L213.15,379.03 L213.27,379.72 L213.39,380.41 L213.51,381.10 L213.62,381.79 L213.74,382.48 L213.86,383.17 L213.98,383.86 L214.10,384.55 L214.21,385.24 L214.33,385.92 L214.45,386.61 L214.57,387.30 L214.69,387.99 L214.80,388.67 L214.92,389.35 L215.04,390.03 L215.16,390.71 L215.28,391.39 L215.39,392.07 L215.51,392.74 L215.63,393.41 L215.75,394.08 L215.87,394.75 L215.98,395.41 L216.10,396.07 L216.22,396.72 L216.34,397.38 L216.46,398.02 L216.58,398.67 L216.69,399.31 L216.81,399.94 L216.93,400.57 L217.05,401.20 L217.17,401.82 L217.28,402.43 L217.40,403.04 L217.52,403.64 L217.64,404.24" stroke="#0000ff" stroke-width="1.4" stroke-dasharray="1.7 1.05"/>
</g>
<g stroke="#000">
<line x1="102.02" y1="404.25" x2="102.02" y2="401.65" stroke-width="1.0"/>
<line x1="102.02" y1="13.20" x2="102.02" y2="15.80" stroke-width="1.0"/>
<line x1="115.78" y1="404.25" x2="115.78" y2="401.65" stroke-width="1.0"/>
<line x1="115.78" y1="13.20" x2="115.78" y2="15.80" stroke-width="1.0"/>
<line x1="125.54" y1="404.25" x2="125.54" y2="401.65" stroke-width="1.0"/>
<line x1="125.54" y1="13.20" x2="125.54" y2="15.80" stroke-width="1.0"/>
<line x1="133.11" y1="404.25" x2="133.11" y2="401.65" stroke-width="1.0"/>
<line x1="133.11" y1="13.20" x2="133.11" y2="15.80" stroke-width="1.0"/>
<line x1="139.30" y1="404.25" x2="139.30" y2="401.65" stroke-width="1.0"/>
<line x1="139.30" y1="13.20" x2="139.30" y2="15.80" stroke-width="1.0"/>
<line x1="144.53" y1="404.25" x2="144.53" y2="401.65" stroke-width="1.0"/>
<line x1="144.53" y1="13.20" x2="144.53" y2="15.80" stroke-width="1.0"/>
<line x1="149.06" y1="404.25" x2="149.06" y2="401.65" stroke-width="1.0"/>
<line x1="149.06" y1="13.20" x2="149.06" y2="15.80" stroke-width="1.0"/>
<line x1="153.06" y1="404.25" x2="153.06" y2="401.65" stroke-width="1.0"/>
<line x1="153.06" y1="13.20" x2="153.06" y2="15.80" stroke-width="1.0"/>
<line x1="156.63" y1="404.25" x2="156.63" y2="399.05" stroke-width="0.7"/>
<line x1="156.63" y1="13.20" x2="156.63" y2="18.40" stroke-width="0.7"/>
<line x1="180.15" y1="404.25" x2="180.15" y2="401.65" stroke-width="1.0"/>
<line x1="180.15" y1="13.20" x2="180.15" y2="15.80" stroke-width="1.0"/>
<line x1="193.91" y1="404.25" x2="193.91" y2="401.65" stroke-width="1.0"/>
<line x1="193.91" y1="13.20" x2="193.91" y2="15.80" stroke-width="1.0"/>
<line x1="203.67" y1="404.25" x2="203.67" y2="401.65" stroke-width="1.0"/>
<line x1="203.67" y1="13.20" x2="203.67" y2="15.80" stroke-width="1.0"/>
<line x1="211.25" y1="404.25" x2="211.25" y2="401.65" stroke-width="1.0"/>
<line x1="211.25" y1="13.20" x2="211.25" y2="15.80" stroke-width="1.0"/>
<line x1="217.43" y1="404.25" x2="217.43" y2="401.65" stroke-width="1.0"/>
<line x1="217.43" y1="13.20" x2="217.43" y2="15.80" stroke-width="1.0"/>
<line x1="222.66" y1="404.25" x2="222.66" y2="401.65" stroke-width="1.0"/>
<line x1="222.66" y1="13.20" x2="222.66" y2="15.80" stroke-width="1.0"/>
<line x1="227.19" y1="404.25" x2="227.19" y2="401.65" stroke-width="1.0"/>
<line x1="227.19" y1="13.20" x2="227.19" y2="15.80" stroke-width="1.0"/>
<line x1="231.19" y1="404.25" x2="231.19" y2="401.65" stroke-width="1.0"/>
<line x1="231.19" y1="13.20" x2="231.19" y2="15.80" stroke-width="1.0"/>
<line x1="234.77" y1="404.25" x2="234.77" y2="399.05" stroke-width="0.7"/>
<line x1="234.77" y1="13.20" x2="234.77" y2="18.40" stroke-width="0.7"/>
<line x1="258.29" y1="404.25" x2="258.29" y2="401.65" stroke-width="1.0"/>
<line x1="258.29" y1="13.20" x2="258.29" y2="15.80" stroke-width="1.0"/>
<line x1="272.05" y1="404.25" x2="272.05" y2="401.65" stroke-width="1.0"/>
<line x1="272.05" y1="13.20" x2="272.05" y2="15.80" stroke-width="1.0"/>
<line x1="281.81" y1="404.25" x2="281.81" y2="401.65" stroke-width="1.0"/>
<line x1="281.81" y1="13.20" x2="281.81" y2="15.80" stroke-width="1.0"/>
<line x1="289.38" y1="404.25" x2="289.38" y2="401.65" stroke-width="1.0"/>
<line x1="289.38" y1="13.20" x2="289.38" y2="15.80" stroke-width="1.0"/>
<line x1="295.57" y1="404.25" x2="295.57" y2="401.65" stroke-width="1.0"/>
<line x1="295.57" y1="13.20" x2="295.57" y2="15.80" stroke-width="1.0"/>
<line x1="300.80" y1="404.25" x2="300.80" y2="401.65" stroke-width="1.0"/>
<line x1="300.80" y1="13.20" x2="300.80" y2="15.80" stroke-width="1.0"/>
<line x1="305.33" y1="404.25" x2="305.33" y2="401.65" stroke-width="1.0"/>
<line x1="305.33" y1="13.20" x2="305.33" y2="15.80" stroke-width="1.0"/>
<line x1="309.32" y1="404.25" x2="309.32" y2="401.65" stroke-width="1.0"/>
<line x1="309.32" y1="13.20" x2="309.32" y2="15.80" stroke-width="1.0"/>
<line x1="312.90" y1="404.25" x2="312.90" y2="399.05" stroke-width="0.7"/>
<line x1="312.90" y1="13.20" x2="312.90" y2="18.40" stroke-width="0.7"/>
<line x1="336.42" y1="404.25" x2="336.42" y2="401.65" stroke-width="1.0"/>
<line x1="336.42" y1="13.20" x2="336.42" y2="15.80" stroke-width="1.0"/>
<line x1="350.18" y1="404.25" x2="350.18" y2="401.65" stroke-width="1.0"/>
<line x1="350.18" y1="13.20" x2="350.18" y2="15.80" stroke-width="1.0"/>
<line x1="359.94" y1="404.25" x2="359.94" y2="401.65" stroke-width="1.0"/>
<line x1="359.94" y1="13.20" x2="359.94" y2="15.80" stroke-width="1.0"/>
<line x1="367.51" y1="404.25" x2="367.51" y2="401.65" stroke-width="1.0"/>
<line x1="367.51" y1="13.20" x2="367.51" y2="15.80" stroke-width="1.0"/>
<line x1="373.70" y1="404.25" x2="373.70" y2="401.65" stroke-width="1.0"/>
<line x1="373.70" y1="13.20" x2="373.70" y2="15.80" stroke-width="1.0"/>
<line x1="378.93" y1="404.25" x2="378.93" y2="401.65" stroke-width="1.0"/>
<line x1="378.93" y1="13.20" x2="378.93" y2="15.80" stroke-width="1.0"/>
<line x1="383.46" y1="404.25" x2="383.46" y2="401.65" stroke-width="1.0"/>
<line x1="383.46" y1="13.20" x2="383.46" y2="15.80" stroke-width="1.0"/>
<line x1="387.46" y1="404.25" x2="387.46" y2="401.65" stroke-width="1.0"/>
<line x1="387.46" y1="13.20" x2="387.46" y2="15.80" stroke-width="1.0"/>
<line x1="391.03" y1="404.25" x2="391.03" y2="399.05" stroke-width="0.7"/>
<line x1="391.03" y1="13.20" x2="391.03" y2="18.40" stroke-width="0.7"/>
<line x1="414.55" y1="404.25" x2="414.55" y2="401.65" stroke-width="1.0"/>
<line x1="414.55" y1="13.20" x2="414.55" y2="15.80" stroke-width="1.0"/>
<line x1="428.31" y1="404.25" x2="428.31" y2="401.65" stroke-width="1.0"/>
<line x1="428.31" y1="13.20" x2="428.31" y2="15.80" stroke-width="1.0"/>
<line x1="438.07" y1="404.25" x2="438.07" y2="401.65" stroke-width="1.0"/>
<line x1="438.07" y1="13.20" x2="438.07" y2="15.80" stroke-width="1.0"/>
<line x1="445.65" y1="404.25" x2="445.65" y2="401.65" stroke-width="1.0"/>
<line x1="445.65" y1="13.20" x2="445.65" y2="15.80" stroke-width="1.0"/>
<line x1="451.83" y1="404.25" x2="451.83" y2="401.65" stroke-width="1.0"/>
<line x1="451.83" y1="13.20" x2="451.83" y2="15.80" stroke-width="1.0"/>
<line x1="457.06" y1="404.25" x2="457.06" y2="401.65" stroke-width="1.0"/>
<line x1="457.06" y1="13.20" x2="457.06" y2="15.80" stroke-width="1.0"/>
<line x1="461.59" y1="404.25" x2="461.59" y2="401.65" stroke-width="1.0"/>
<line x1="461.59" y1="13.20" x2="461.59" y2="15.80" stroke-width="1.0"/>
<line x1="465.59" y1="404.25" x2="465.59" y2="401.65" stroke-width="1.0"/>
<line x1="465.59" y1="13.20" x2="465.59" y2="15.80" stroke-width="1.0"/>
<line x1="469.17" y1="404.25" x2="469.17" y2="399.05" stroke-width="0.7"/>
<line x1="469.17" y1="13.20" x2="469.17" y2="18.40" stroke-width="0.7"/>
<line x1="492.69" y1="404.25" x2="492.69" y2="401.65" stroke-width="1.0"/>
<line x1="492.69" y1="13.20" x2="492.69" y2="15.80" stroke-width="1.0"/>
<line x1="506.45" y1="404.25" x2="506.45" y2="401.65" stroke-width="1.0"/>
<line x1="506.45" y1="13.20" x2="506.45" y2="15.80" stroke-width="1.0"/>
<line x1="516.21" y1="404.25" x2="516.21" y2="401.65" stroke-width="1.0"/>
<line x1="516.21" y1="13.20" x2="516.21" y2="15.80" stroke-width="1.0"/>
<line x1="523.78" y1="404.25" x2="523.78" y2="401.65" stroke-width="1.0"/>
<line x1="523.78" y1="13.20" x2="523.78" y2="15.80" stroke-width="1.0"/>
<line x1="529.97" y1="404.25" x2="529.97" y2="401.65" stroke-width="1.0"/>
<line x1="529.97" y1="13.20" x2="529.97" y2="15.80" stroke-width="1.0"/>
<line x1="535.20" y1="404.25" x2="535.20" y2="401.65" stroke-width="1.0"/>
<line x1="535.20" y1="13.20" x2="535.20" y2="15.80" stroke-width="1.0"/>
<line x1="539.73" y1="404.25" x2="539.73" y2="401.65" stroke-width="1.0"/>
<line x1="539.73" y1="13.20" x2="539.73" y2="15.80" stroke-width="1.0"/>
<line x1="543.72" y1="404.25" x2="543.72" y2="401.65" stroke-width="1.0"/>
<line x1="543.72" y1="13.20" x2="543.72" y2="15.80" stroke-width="1.0"/>
<line x1="78.50" y1="365.01" x2="81.10" y2="365.01" stroke-width="1.0"/>
<line x1="547.30" y1="365.01" x2="544.70" y2="365.01" stroke-width="1.0"/>
<line x1="78.50" y1="342.06" x2="81.10" y2="342.06" stroke-width="1.0"/>
<line x1="547.30" y1="342.06" x2="544.70" y2="342.06" stroke-width="1.0"/>
<line x1="78.50" y1="325.77" x2="81.10" y2="325.77" stroke-width="1.0"/>
<line x1="547.30" y1="325.77" x2="544.70" y2="325.77" stroke-width="1.0"/>
<line x1="78.50" y1="313.14" x2="81.10" y2="313.14" stroke-width="1.0"/>
<line x1="547.30" y1="313.14" x2="544.70" y2="313.14" stroke-width="1.0"/>
<line x1="78.50" y1="302.82" x2="81.10" y2="302.82" stroke-width="1.0"/>
<line x1="547.30" y1="302.82" x2="544.70" y2="302.82" stroke-width="1.0"/>
<line x1="78.50" y1="294.09" x2="81.10" y2="294.09" stroke-width="1.0"/>
<line x1="547.30" y1="294.09" x2="544.70" y2="294.09" stroke-width="1.0"/>
<line x1="78.50" y1="286.53" x2="81.10" y2="286.53" stroke-width="1.0"/>
<line x1="547.30" y1="286.53" x2="544.70" y2="286.53" stroke-width="1.0"/>
<line x1="78.50" y1="279.86" x2="81.10" y2="279.86" stroke-width="1.0"/>
<line x1="547.30" y1="279.86" x2="544.70" y2="279.86" stroke-width="1.0"/>
<line x1="78.50" y1="273.90" x2="83.70" y2="273.90" stroke-width="0.7"/>
<line x1="547.30" y1="273.90" x2="542.10" y2="273.90" stroke-width="0.7"/>
<line x1="78.50" y1="234.66" x2="81.10" y2="234.66" stroke-width="1.0"/>
<line x1="547.30" y1="234.66" x2="544.70" y2="234.66" stroke-width="1.0"/>
<line x1="78.50" y1="211.71" x2="81.10" y2="211.71" stroke-width="1.0"/>
<line x1="547.30" y1="211.71" x2="544.70" y2="211.71" stroke-width="1.0"/>
<line x1="78.50" y1="195.42" x2="81.10" y2="195.42" stroke-width="1.0"/>
<line x1="547.30" y1="195.42" x2="544.70" y2="195.42" stroke-width="1.0"/>
<line x1="78.50" y1="182.79" x2="81.10" y2="182.79" stroke-width="1.0"/>
<line x1="547.30" y1="182.79" x2="544.70" y2="182.79" stroke-width="1.0"/>
<line x1="78.50" y1="172.47" x2="81.10" y2="172.47" stroke-width="1.0"/>
<line x1="547.30" y1="172.47" x2="544.70" y2="172.47" stroke-width="1.0"/>
<line x1="78.50" y1="163.74" x2="81.10" y2="163.74" stroke-width="1.0"/>
<line x1="547.30" y1="163.74" x2="544.70" y2="163.74" stroke-width="1.0"/>
<line x1="78.50" y1="156.18" x2="81.10" y2="156.18" stroke-width="1.0"/>
<line x1="547.30" y1="156.18" x2="544.70" y2="156.18" stroke-width="1.0"/>
<line x1="78.50" y1="149.51" x2="81.10" y2="149.51" stroke-width="1.0"/>
<line x1="547.30" y1="149.51" x2="544.70" y2="149.51" stroke-width="1.0"/>
<line x1="78.50" y1="143.55" x2="83.70" y2="143.55" stroke-width="0.7"/>
<line x1="547.30" y1="143.55" x2="542.10" y2="143.55" stroke-width="0.7"/>
<line x1="78.50" y1="104.31" x2="81.10" y2="104.31" stroke-width="1.0"/>
<line x1="547.30" y1="104.31" x2="544.70" y2="104.31" stroke-width="1.0"/>
<line x1="78.50" y1="81.36" x2="81.10" y2="81.36" stroke-width="1.0"/>
<line x1="547.30" y1="81.36" x2="544.70" y2="81.36" stroke-width="1.0"/>
<line x1="78.50" y1="65.07" x2="81.10" y2="65.07" stroke-width="1.0"/>
<line x1="547.30" y1="65.07" x2="544.70" y2="65.07" stroke-width="1.0"/>
<line x1="78.50" y1="52.44" x2="81.10" y2="52.44" stroke-width="1.0"/>
<line x1="547.30" y1="52.44" x2="544.70" y2="52.44" stroke-width="1.0"/>
<line x1="78.50" y1="42.12" x2="81.10" y2="42.12" stroke-width="1.0"/>
<line x1="547.30" y1="42.12" x2="544.70" y2="42.12" stroke-width="1.0"/>
<line x1="78.50" y1="33.39" x2="81.10" y2="33.39" stroke-width="1.0"/>
<line x1="547.30" y1="33.39" x2="544.70" y2="33.39" stroke-width="1.0"/>
<line x1="78.50" y1="25.83" x2="81.10" y2="25.83" stroke-width="1.0"/>
<line x1="547.30" y1="25.83" x2="544.70" y2="25.83" stroke-width="1.0"/>
<line x1="78.50" y1="19.16" x2="81.10" y2="19.16" stroke-width="1.0"/>
<line x1="547.30" y1="19.16" x2="544.70" y2="19.16" stroke-width="1.0"/>
</g>
<rect x="78.5" y="13.2" width="468.79999999999995" height="391.05" fill="none" stroke="#000" stroke-width="1.1"/>
<text x="78.00" y="426.6" font-size="18.8" text-anchor="end">10</text>
<text x="78.70" y="416.0" font-size="11.3">10</text>
<text x="156.13" y="426.6" font-size="18.8" text-anchor="end">10</text>
<text x="156.83" y="416.0" font-size="11.3">11</text>
<text x="234.27" y="426.6" font-size="18.8" text-anchor="end">10</text>
<text x="234.97" y="416.0" font-size="11.3">12</text>
<text x="312.40" y="426.6" font-size="18.8" text-anchor="end">10</text>
<text x="313.10" y="416.0" font-size="11.3">13</text>
<text x="390.53" y="426.6" font-size="18.8" text-anchor="end">10</text>
<text x="391.23" y="416.0" font-size="11.3">14</text>
<text x="468.67" y="426.6" font-size="18.8" text-anchor="end">10</text>
<text x="469.37" y="416.0" font-size="11.3">15</text>
<text x="546.80" y="426.6" font-size="18.8" text-anchor="end">10</text>
<text x="547.50" y="416.0" font-size="11.3">16</text>
<text x="44.3" y="410.55" font-size="18.8" text-anchor="end">10</text>
<text x="44.8" y="399.75" font-size="11.3">−1</text>
<text x="55.5" y="280.20" font-size="18.8" text-anchor="end">10</text>
<text x="55.7" y="269.40" font-size="11.3">0</text>
<text x="55.5" y="149.85" font-size="18.8" text-anchor="end">10</text>
<text x="55.7" y="139.05" font-size="11.3">1</text>
<text x="55.5" y="19.50" font-size="18.8" text-anchor="end">10</text>
<text x="55.7" y="8.70" font-size="11.3">2</text>
<text x="255" y="451.8" font-size="18.5">M (h<tspan font-size="11.3" dy="-10.7">−1</tspan><tspan dy="10.7"> M</tspan><tspan font-size="11.3" dy="5.7">sun</tspan><tspan dy="-5.7">)</tspan></text>
<text transform="translate(14.2,229.8) rotate(-90)" font-size="20.5" font-style="italic">N(<tspan textLength="18" lengthAdjust="spacingAndGlyphs">m</tspan><tspan dx="-2.8">)</tspan></text>
<text x="143.4" y="107" font-size="18.7">−18&gt;M<tspan font-size="11.8" dy="5.4">r</tspan><tspan dy="-5.4">&gt;−19</tspan></text>
</svg></body></html>
